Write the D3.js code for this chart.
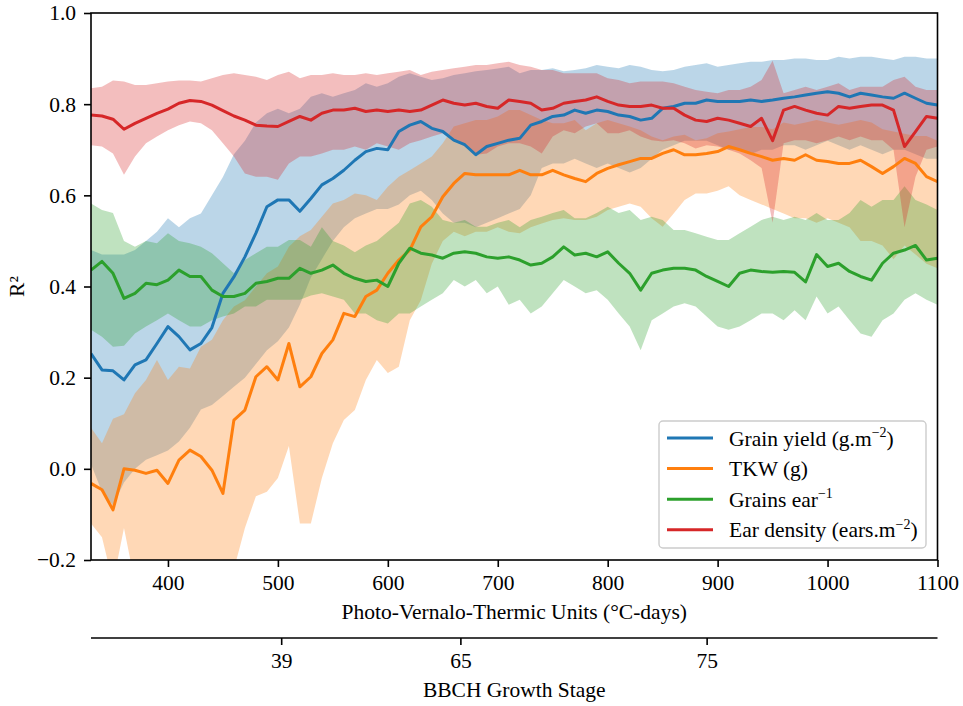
<!DOCTYPE html>
<html>
<head>
<meta charset="utf-8">
<script src="https://cdn.jsdelivr.net/npm/d3@7"></script>
<style>
  body { margin: 0; background: #fff; }
  svg text { font-family: "Liberation Serif", "Times New Roman", serif; fill: #000; }
</style>
</head>
<body>
<svg id="chart"></svg>
<script>
// PVTU (°C-days) sample positions
const pvtu = [330,340,350,360,370,380,390,400,410,420,430,440,450,460,470,480,490,500,510,520,
  530,540,550,560,570,580,590,600,610,620,630,640,650,660,670,680,690,700,710,720,
  730,740,750,760,770,780,790,800,810,820,830,840,850,860,870,880,890,900,910,920,
  930,940,950,960,970,980,990,1000,1010,1020,1030,1040,1050,1060,1070,1080,1090,1100];

// Grain yield
const yieldMean = [0.253,0.217,0.215,0.195,0.228,0.239,0.275,0.312,0.29,0.261,0.275,0.31,0.385,0.421,0.465,0.517,0.575,0.59,0.59,0.565,
  0.593,0.623,0.637,0.655,0.677,0.696,0.703,0.70,0.74,0.754,0.762,0.747,0.74,0.721,0.711,0.689,0.707,0.714,0.721,0.725,
  0.754,0.762,0.773,0.776,0.787,0.78,0.787,0.784,0.776,0.773,0.765,0.769,0.791,0.795,0.802,0.802,0.809,0.806,0.806,0.806,
  0.809,0.806,0.809,0.813,0.816,0.82,0.824,0.827,0.824,0.816,0.824,0.82,0.816,0.813,0.824,0.813,0.802,0.798];
const yieldHi = [0.48,0.47,0.47,0.47,0.48,0.50,0.52,0.55,0.53,0.55,0.56,0.60,0.64,0.69,0.72,0.76,0.78,0.79,0.78,0.79,
  0.816,0.824,0.816,0.824,0.831,0.846,0.838,0.846,0.86,0.868,0.86,0.853,0.857,0.864,0.868,0.872,0.875,0.878,0.882,0.868,
  0.875,0.875,0.879,0.872,0.875,0.879,0.886,0.882,0.879,0.886,0.882,0.875,0.872,0.875,0.882,0.886,0.89,0.882,0.886,0.89,
  0.893,0.893,0.897,0.897,0.9,0.9,0.897,0.897,0.904,0.9,0.904,0.904,0.9,0.897,0.904,0.904,0.9,0.9];
const yieldLo = [0.01,-0.05,-0.08,-0.03,0.0,0.02,0.03,0.04,0.06,0.09,0.13,0.14,0.16,0.18,0.2,0.23,0.26,0.28,0.31,0.36,
  0.42,0.46,0.50,0.53,0.55,0.56,0.57,0.57,0.58,0.60,0.61,0.59,0.56,0.54,0.54,0.53,0.54,0.55,0.56,0.57,
  0.60,0.66,0.67,0.67,0.68,0.67,0.66,0.67,0.66,0.65,0.66,0.68,0.70,0.71,0.72,0.72,0.72,0.71,0.70,0.70,
  0.69,0.70,0.70,0.71,0.71,0.70,0.71,0.72,0.71,0.70,0.71,0.70,0.69,0.70,0.70,0.69,0.68,0.68];

// TKW
const tkwMean = [-0.032,-0.046,-0.09,0.0,-0.003,-0.01,-0.003,-0.032,0.019,0.041,0.027,-0.003,-0.054,0.107,0.129,0.202,0.224,0.195,0.275,0.18,
  0.202,0.253,0.283,0.341,0.334,0.378,0.392,0.429,0.458,0.48,0.531,0.553,0.597,0.626,0.648,0.645,0.645,0.645,0.645,0.655,
  0.645,0.645,0.655,0.645,0.637,0.63,0.648,0.659,0.667,0.674,0.681,0.681,0.692,0.70,0.689,0.689,0.692,0.696,0.707,0.70,
  0.692,0.685,0.677,0.681,0.677,0.689,0.677,0.674,0.67,0.67,0.677,0.663,0.648,0.663,0.681,0.67,0.641,0.63];
const tkwHi = [0.09,0.056,0.11,0.12,0.166,0.195,0.239,0.195,0.224,0.22,0.268,0.283,0.326,0.356,0.37,0.40,0.429,0.444,0.487,0.51,
  0.524,0.553,0.582,0.59,0.604,0.60,0.59,0.619,0.641,0.655,0.67,0.685,0.714,0.751,0.758,0.765,0.765,0.773,0.787,0.787,
  0.776,0.765,0.758,0.758,0.765,0.743,0.758,0.765,0.758,0.751,0.743,0.729,0.721,0.729,0.733,0.721,0.725,0.736,0.74,0.745,
  0.75,0.75,0.745,0.76,0.755,0.76,0.765,0.76,0.755,0.76,0.765,0.76,0.745,0.74,0.735,0.73,0.73,0.72];
const tkwLo = [-0.12,-0.15,-0.25,-0.13,-0.25,-0.25,-0.25,-0.25,-0.25,-0.22,-0.25,-0.25,-0.25,-0.22,-0.13,-0.06,-0.05,-0.02,0.05,-0.12,
  -0.12,-0.02,0.056,0.107,0.129,0.195,0.239,0.21,0.224,0.326,0.37,0.45,0.50,0.52,0.51,0.52,0.52,0.53,0.52,0.517,
  0.53,0.538,0.546,0.55,0.546,0.546,0.553,0.568,0.575,0.582,0.575,0.55,0.531,0.56,0.59,0.604,0.604,0.61,0.62,0.60,
  0.59,0.58,0.57,0.56,0.55,0.55,0.54,0.55,0.54,0.53,0.50,0.50,0.49,0.46,0.49,0.47,0.45,0.44];

// Grains per ear
const grainsMean = [0.436,0.455,0.429,0.374,0.385,0.407,0.404,0.414,0.436,0.422,0.422,0.392,0.378,0.378,0.385,0.407,0.411,0.418,0.418,0.44,
  0.429,0.436,0.447,0.429,0.418,0.411,0.414,0.40,0.451,0.484,0.473,0.469,0.462,0.473,0.476,0.473,0.465,0.462,0.465,0.458,
  0.447,0.451,0.465,0.487,0.469,0.473,0.465,0.476,0.451,0.429,0.392,0.429,0.436,0.44,0.44,0.436,0.422,0.411,0.40,0.429,
  0.436,0.433,0.431,0.433,0.431,0.41,0.47,0.444,0.451,0.433,0.422,0.414,0.451,0.473,0.48,0.49,0.458,0.462];
const grainsHi = [0.582,0.568,0.561,0.50,0.487,0.50,0.495,0.517,0.50,0.495,0.487,0.473,0.451,0.429,0.458,0.473,0.487,0.487,0.502,0.502,
  0.487,0.53,0.50,0.49,0.475,0.49,0.50,0.52,0.54,0.582,0.59,0.575,0.546,0.54,0.546,0.531,0.531,0.54,0.546,0.53,
  0.546,0.553,0.561,0.568,0.55,0.55,0.561,0.575,0.561,0.568,0.546,0.553,0.546,0.524,0.524,0.517,0.509,0.502,0.502,0.517,
  0.531,0.546,0.553,0.546,0.553,0.546,0.561,0.546,0.546,0.561,0.59,0.575,0.59,0.59,0.62,0.59,0.58,0.568];
const grainsLo = [0.305,0.29,0.268,0.27,0.297,0.312,0.326,0.341,0.326,0.312,0.312,0.326,0.334,0.341,0.356,0.356,0.371,0.371,0.371,0.371,
  0.38,0.385,0.378,0.371,0.341,0.341,0.326,0.319,0.341,0.341,0.356,0.371,0.385,0.414,0.40,0.414,0.385,0.40,0.36,0.371,
  0.341,0.356,0.385,0.414,0.40,0.385,0.392,0.371,0.341,0.312,0.26,0.326,0.341,0.356,0.363,0.356,0.334,0.312,0.305,0.312,
  0.326,0.341,0.341,0.326,0.348,0.326,0.378,0.341,0.356,0.326,0.297,0.29,0.326,0.341,0.371,0.385,0.371,0.36];

// Ear density
const earMean = [0.776,0.774,0.767,0.745,0.758,0.769,0.78,0.789,0.802,0.808,0.806,0.798,0.786,0.774,0.765,0.754,0.752,0.751,0.762,0.773,
  0.765,0.78,0.787,0.787,0.791,0.784,0.787,0.784,0.787,0.784,0.787,0.798,0.809,0.802,0.798,0.802,0.795,0.791,0.809,0.806,
  0.802,0.787,0.791,0.802,0.806,0.809,0.816,0.806,0.798,0.795,0.795,0.798,0.791,0.791,0.776,0.765,0.762,0.769,0.765,0.758,
  0.751,0.769,0.72,0.787,0.795,0.787,0.78,0.776,0.795,0.791,0.795,0.798,0.798,0.787,0.707,0.74,0.773,0.769];
const earHi = [0.835,0.838,0.852,0.85,0.842,0.842,0.846,0.85,0.852,0.852,0.85,0.857,0.864,0.868,0.864,0.86,0.853,0.864,0.871,0.857,
  0.864,0.864,0.868,0.864,0.864,0.868,0.864,0.868,0.871,0.875,0.864,0.871,0.875,0.879,0.882,0.886,0.886,0.89,0.893,0.886,
  0.882,0.875,0.875,0.868,0.868,0.868,0.868,0.857,0.853,0.846,0.85,0.85,0.85,0.846,0.838,0.831,0.827,0.824,0.831,0.831,
  0.838,0.853,0.895,0.824,0.831,0.838,0.831,0.838,0.846,0.831,0.838,0.838,0.838,0.853,0.86,0.838,0.831,0.831];
const earLo = [0.71,0.707,0.692,0.645,0.685,0.714,0.729,0.743,0.754,0.762,0.758,0.743,0.714,0.685,0.648,0.641,0.641,0.634,0.67,0.685,
  0.685,0.692,0.70,0.70,0.707,0.70,0.714,0.707,0.70,0.714,0.721,0.729,0.736,0.721,0.707,0.689,0.692,0.707,0.714,0.714,
  0.707,0.692,0.729,0.743,0.736,0.751,0.758,0.736,0.736,0.743,0.729,0.721,0.718,0.721,0.714,0.703,0.71,0.707,0.70,0.692,
  0.677,0.66,0.54,0.714,0.721,0.721,0.714,0.721,0.729,0.721,0.729,0.721,0.721,0.70,0.53,0.641,0.70,0.707];

const seriesNames = [
  [["Grain yield (g.m", ""], ["\u22122", "sup"], [")", ""]],
  [["TKW (g)", ""]],
  [["Grains ear", ""], ["\u22121", "sup"]],
  [["Ear density (ears.m", ""], ["\u22122", "sup"], [")", ""]]
];
const seriesColors = ["#1f77b4", "#ff7f0e", "#2ca02c", "#d62728"];
const yTicks = [-0.2, 0.0, 0.2, 0.4, 0.6, 0.8, 1.0];
const xTicks = [400, 500, 600, 700, 800, 900, 1000, 1100];
// BBCH stages placed on the PVTU scale
const bbchLabels = ["39", "65", "75"];
const bbchPos = [503, 666, 890];

const W = 963, H = 706;
const pL = 91, pR = 937.5, pT = 13, pB = 560;
const FS = "21.5px";

const svg = d3.select("#chart").attr("width", W).attr("height", H);

const x = d3.scaleLinear().domain([330, 1100]).range([pL, pR]);
const y = d3.scaleLinear().domain([-0.2, 1.0]).range([pB, pT]);

svg.append("clipPath").attr("id", "plotclip")
  .append("rect").attr("x", pL).attr("y", pT)
  .attr("width", pR - pL).attr("height", pB - pT);

const series = [
  { mean: yieldMean, lo: yieldLo, hi: yieldHi },
  { mean: tkwMean, lo: tkwLo, hi: tkwHi },
  { mean: grainsMean, lo: grainsLo, hi: grainsHi },
  { mean: earMean, lo: earLo, hi: earHi }
];

const plot = svg.append("g").attr("clip-path", "url(#plotclip)");

// bands
series.forEach((s, k) => {
  const area = d3.area()
    .x((d, i) => x(pvtu[i]))
    .y0((d, i) => y(s.lo[i]))
    .y1((d, i) => y(s.hi[i]));
  plot.append("path")
    .attr("d", area(pvtu))
    .attr("fill", seriesColors[k])
    .attr("fill-opacity", 0.3);
});

// mean lines
series.forEach((s, k) => {
  const line = d3.line()
    .x((d, i) => x(pvtu[i]))
    .y((d, i) => y(s.mean[i]));
  plot.append("path")
    .attr("d", line(pvtu))
    .attr("fill", "none")
    .attr("stroke", seriesColors[k])
    .attr("stroke-width", 3)
    .attr("stroke-linejoin", "round");
});

// axes
const fmt = d3.format(".1f");
const gx = svg.append("g").attr("transform", `translate(0,${pB})`)
  .call(d3.axisBottom(x).tickValues(xTicks).tickSize(7).tickPadding(8).tickFormat(d3.format("d")));
const gy = svg.append("g").attr("transform", `translate(${pL},0)`)
  .call(d3.axisLeft(y).tickValues(yTicks).tickSize(7).tickPadding(8).tickFormat(fmt));
[gx, gy].forEach(g => {
  g.select(".domain").remove();
  g.selectAll(".tick line").attr("stroke", "#000").attr("stroke-width", 1.6);
  g.selectAll(".tick text").style("font-size", FS).attr("fill", "#000");
});

// frame
svg.append("rect")
  .attr("x", pL).attr("y", pT)
  .attr("width", pR - pL).attr("height", pB - pT)
  .attr("fill", "none").attr("stroke", "#000").attr("stroke-width", 1.6);

// secondary BBCH axis
const bb = svg.append("g").attr("transform", "translate(0,638)")
  .call(d3.axisBottom(x).tickValues(bbchPos).tickSize(7).tickPadding(8)
    .tickFormat((d, i) => bbchLabels[i]));
bb.select(".domain").attr("d", `M${pL},0H${pR}`).attr("stroke", "#000").attr("stroke-width", 1.6);
bb.selectAll(".tick line").attr("stroke", "#000").attr("stroke-width", 1.6);
bb.selectAll(".tick text").style("font-size", FS).attr("fill", "#000");

// axis titles
const cx = (pL + pR) / 2;
svg.append("text").attr("x", cx).attr("y", 619).attr("text-anchor", "middle")
  .style("font-size", FS).text("Photo-Vernalo-Thermic Units (\u00B0C-days)");
svg.append("text").attr("x", cx).attr("y", 697).attr("text-anchor", "middle")
  .style("font-size", FS).text("BBCH Growth Stage");
svg.append("text").attr("transform", `translate(24,${(pT + pB) / 2}) rotate(-90)`)
  .attr("text-anchor", "middle").style("font-size", FS).text("R\u00B2");

// legend
const lg = svg.append("g");
lg.append("rect").attr("x", 659).attr("y", 421).attr("width", 267).attr("height", 127)
  .attr("rx", 4).attr("fill", "#fff").attr("fill-opacity", 0.8)
  .attr("stroke", "#cccccc").attr("stroke-width", 1.4);
seriesNames.forEach((parts, i) => {
  const ry = 438 + i * 30.6;
  lg.append("line").attr("x1", 667).attr("x2", 713).attr("y1", ry).attr("y2", ry)
    .attr("stroke", seriesColors[i]).attr("stroke-width", 3);
  const t = lg.append("text").attr("x", 729).attr("y", ry + 7.5).style("font-size", FS);
  parts.forEach(([txt, kind]) => {
    if (kind === "sup") {
      t.append("tspan").attr("dy", -8.5).style("font-size", "14px").text(txt);
    } else {
      const sp = t.append("tspan").text(txt);
      if (t.selectAll("tspan").size() > 1) sp.attr("dy", 8.5);
    }
  });
});
</script>
</body>
</html>
